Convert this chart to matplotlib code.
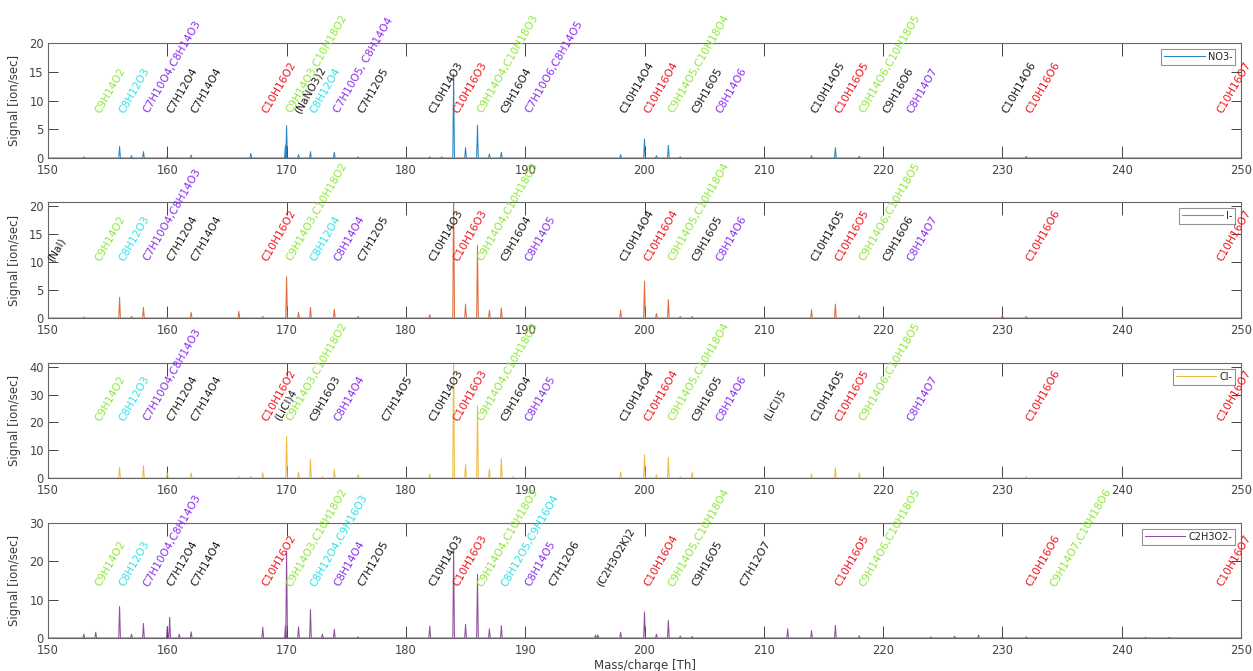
import numpy as np
import matplotlib
matplotlib.use("Agg")
import matplotlib.pyplot as plt
from matplotlib.transforms import ScaledTranslation

# ion chemistry of each panel
ions = ["NO3-", "I-", "Cl-", "C2H3O2-"]
line_colors = ["#0072BD", "#D95319", "#EDB120", "#7E2F8E"]
ylims = [20, 20.8, 41.4, 30]
ystep = [5, 5, 10, 10]
label_y = [8.0, 10.4, 21.0, 13.8]

# peaks (m/z, signal)
no3_mz = [153, 156, 157, 158, 160, 162, 167, 169.9, 170, 171, 172, 174, 176,
          182, 183, 184, 185, 186, 187, 188, 198, 200, 201, 202, 203, 214, 216, 218, 232]
no3_sig = [0.2, 2.0, 0.4, 1.1, 0.3, 0.5, 0.8, 2.2, 5.6, 0.6, 1.1, 1.0, 0.2,
           0.2, 0.2, 14.6, 1.8, 5.7, 0.7, 1.0, 0.6, 3.3, 0.4, 2.2, 0.2, 0.4, 1.8, 0.3, 0.3]

i_mz = [153, 156, 157, 158, 162, 166, 168, 170, 171, 172, 174, 176,
        182, 184, 185, 186, 187, 188, 198, 200, 201, 202, 203, 204, 214, 216, 218, 230, 232]
i_sig = [0.2, 3.7, 0.3, 1.9, 1.0, 1.2, 0.3, 7.4, 1.0, 1.9, 1.6, 0.3,
         0.6, 24.0, 2.5, 13.0, 1.4, 1.8, 1.4, 6.6, 0.8, 3.3, 0.3, 0.3, 1.5, 2.5, 0.4, 0.5, 0.3]

cl_mz = [156, 158, 160, 162, 166, 167, 168, 170, 171, 172, 173, 174, 176,
         182, 184, 185, 186, 187, 188, 189, 198, 200, 201, 202, 203, 204, 214, 216, 218, 232]
cl_sig = [3.8, 4.4, 1.8, 1.8, 0.5, 0.6, 1.9, 15.0, 2.0, 6.7, 0.5, 3.0, 1.2,
          1.4, 45.0, 4.9, 26.0, 3.2, 7.0, 0.5, 2.2, 8.4, 1.2, 7.4, 0.5, 2.0, 1.4, 3.6, 1.8, 0.5]

ac_mz = [153, 154, 156, 157, 158, 160, 160.2, 161, 162, 168, 169.9, 170, 171, 172, 173, 174, 176,
         182, 184, 185, 186, 187, 188, 195.9, 196.1, 198, 200, 201, 202, 203, 204,
         212, 214, 216, 218, 224, 226, 228, 230, 232, 242, 244]
ac_sig = [1.0, 1.5, 8.2, 1.0, 3.8, 3.0, 5.4, 1.0, 1.6, 2.8, 3.2, 22.6, 2.9, 7.4, 1.0, 2.3, 0.3,
          3.1, 23.0, 3.6, 16.6, 2.4, 3.2, 0.8, 0.8, 1.5, 6.8, 1.0, 4.6, 0.5, 0.4,
          2.4, 1.9, 3.3, 0.6, 0.3, 0.5, 0.8, 0.3, 0.3, 0.2, 0.2]

peak_mz = [no3_mz, i_mz, cl_mz, ac_mz]
peak_sig = [no3_sig, i_sig, cl_sig, ac_sig]

# formula annotations: (nominal mass, text, colour key)
no3_labels = [(154, "C9H14O2", "g"), (156, "C8H12O3", "c"), (158, "C7H10O4,C8H14O3", "p"),
              (160, "C7H12O4", "k"), (162, "C7H14O4", "k"), (168, "C10H16O2", "r"),
              (170, "C9H14O3,C10H18O2", "g"), (170.7, "(NaNO3)2", "k"), (172, "C8H12O4", "c"),
              (174, "C7H10O5, C8H14O4", "p"), (176, "C7H12O5", "k"), (182, "C10H14O3", "k"),
              (184, "C10H16O3", "r"), (186, "C9H14O4,C10H18O3", "g"), (188, "C9H16O4", "k"),
              (190, "C7H10O6,C8H14O5", "p"), (198, "C10H14O4", "k"), (200, "C10H16O4", "r"),
              (202, "C9H14O5,C10H18O4", "g"), (204, "C9H16O5", "k"), (206, "C8H14O6", "p"),
              (214, "C10H14O5", "k"), (216, "C10H16O5", "r"), (218, "C9H14O6,C10H18O5", "g"),
              (220, "C9H16O6", "k"), (222, "C8H14O7", "p"), (230, "C10H14O6", "k"),
              (232, "C10H16O6", "r"), (248, "C10H16O7", "r")]

i_labels = [(150, "(NaI)", "k"), (154, "C9H14O2", "g"), (156, "C8H12O3", "c"),
            (158, "C7H10O4,C8H14O3", "p"), (160, "C7H12O4", "k"), (162, "C7H14O4", "k"),
            (168, "C10H16O2", "r"), (170, "C9H14O3,C10H18O2", "g"), (172, "C8H12O4", "c"),
            (174, "C8H14O4", "p"), (176, "C7H12O5", "k"), (182, "C10H14O3", "k"),
            (184, "C10H16O3", "r"), (186, "C9H14O4,C10H18O3", "g"), (188, "C9H16O4", "k"),
            (190, "C8H14O5", "p"), (198, "C10H14O4", "k"), (200, "C10H16O4", "r"),
            (202, "C9H14O5,C10H18O4", "g"), (204, "C9H16O5", "k"), (206, "C8H14O6", "p"),
            (214, "C10H14O5", "k"), (216, "C10H16O5", "r"), (218, "C9H14O6,C10H18O5", "g"),
            (220, "C9H16O6", "k"), (222, "C8H14O7", "p"), (232, "C10H16O6", "r"),
            (248, "C10H16O7", "r")]

cl_labels = [(154, "C9H14O2", "g"), (156, "C8H12O3", "c"), (158, "C7H10O4,C8H14O3", "p"),
             (160, "C7H12O4", "k"), (162, "C7H14O4", "k"), (168, "C10H16O2", "r"),
             (169, "(LiCl)4", "k"), (170, "C9H14O3,C10H18O2", "g"), (172, "C9H16O3", "k"),
             (174, "C8H14O4", "p"), (178, "C7H14O5", "k"), (182, "C10H14O3", "k"),
             (184, "C10H16O3", "r"), (186, "C9H14O4,C10H18O3", "g"), (188, "C9H16O4", "k"),
             (190, "C8H14O5", "p"), (198, "C10H14O4", "k"), (200, "C10H16O4", "r"),
             (202, "C9H14O5,C10H18O4", "g"), (204, "C9H16O5", "k"), (206, "C8H14O6", "p"),
             (210, "(LiCl)5", "k"), (214, "C10H14O5", "k"), (216, "C10H16O5", "r"),
             (218, "C9H14O6,C10H18O5", "g"), (222, "C8H14O7", "p"), (232, "C10H16O6", "r"),
             (248, "C10H16O7", "r")]

ac_labels = [(154, "C9H14O2", "g"), (156, "C8H12O3", "c"), (158, "C7H10O4,C8H14O3", "p"),
             (160, "C7H12O4", "k"), (162, "C7H14O4", "k"), (168, "C10H16O2", "r"),
             (170, "C9H14O3,C10H18O2", "g"), (172, "C8H12O4,C9H16O3", "c"),
             (174, "C8H14O4", "p"), (176, "C7H12O5", "k"), (182, "C10H14O3", "k"),
             (184, "C10H16O3", "r"), (186, "C9H14O4,C10H18O3", "g"),
             (188, "C8H12O5,C9H16O4", "c"), (190, "C8H14O5", "p"), (192, "C7H12O6", "k"),
             (196, "(C2H3O2K)2", "k"), (200, "C10H16O4", "r"), (202, "C9H14O5,C10H18O4", "g"),
             (204, "C9H16O5", "k"), (208, "C7H12O7", "k"), (216, "C10H16O5", "r"),
             (218, "C9H14O6,C10H18O5", "g"), (232, "C10H16O6", "r"),
             (234, "C9H14O7,C10H18O6", "g"), (248, "C10H16O7", "r")]

all_labels = [no3_labels, i_labels, cl_labels, ac_labels]

label_colors = {"g": "#8ee83a", "c": "#2fe2e6", "p": "#8a2cf0", "k": "#1a1a1a", "r": "#f0141e"}


def stick_trace(mz, sig, width=0.07):
    # narrow triangular peaks on a zero baseline
    x = [150.0]
    y = [0.0]
    for m, s in sorted(zip(mz, sig)):
        x += [m - width, m, m + width]
        y += [0.0, s, 0.0]
    x.append(250.0)
    y.append(0.0)
    return np.array(x), np.array(y)


fig = plt.figure(figsize=(12.53, 6.71), dpi=100)
left, width = 48 / 1253, 1193 / 1253
tops = [43, 202, 363, 523]
heights = [115, 116, 115, 115]
# small shift like a middle-left anchored rotated text
shift = ScaledTranslation(5 / 100, -2 / 100, fig.dpi_scale_trans)

for k in range(4):
    bottom = 1 - (tops[k] + heights[k]) / 671
    ax = fig.add_axes([left, bottom, width, heights[k] / 671])
    x, y = stick_trace(peak_mz[k], peak_sig[k])
    ax.plot(x, y, color=line_colors[k], lw=0.75, alpha=0.85, label=ions[k])
    ax.set_xlim(150, 250)
    ax.set_ylim(0, ylims[k])
    ax.set_xticks(np.arange(150, 251, 10))
    ax.set_yticks(np.arange(0, ylims[k] + 0.01, ystep[k]))
    ax.tick_params(direction="in", top=True, right=True, labelsize=8.3,
                   colors="#444444", width=0.7)
    ax.tick_params(axis="x", length=9, pad=4)
    ax.tick_params(axis="y", length=7, pad=3)
    for sp in ax.spines.values():
        sp.set_color("#666666")
        sp.set_linewidth(0.8)
    ax.set_ylabel("Signal [ion/sec]", fontsize=8.5, color="#3a3a3a", labelpad=6)
    for m, txt, c in all_labels[k]:
        ax.text(m, label_y[k], txt, rotation=60, rotation_mode="anchor",
                ha="left", va="baseline", fontsize=7.7, color=label_colors[c],
                clip_on=False, transform=ax.transData + shift)
    leg = ax.legend(loc="upper right", fontsize=7, handlelength=4.2, frameon=True,
                    fancybox=False, borderaxespad=0.6, borderpad=0.3,
                    handletextpad=0.3, labelcolor="#222222")
    leg.get_frame().set_edgecolor("#777777")
    leg.get_frame().set_linewidth(0.8)
    if k == 3:
        ax.set_xlabel("Mass/charge [Th]", fontsize=8.5, color="#3a3a3a", labelpad=2)

plt.savefig("out.png", dpi=100)
